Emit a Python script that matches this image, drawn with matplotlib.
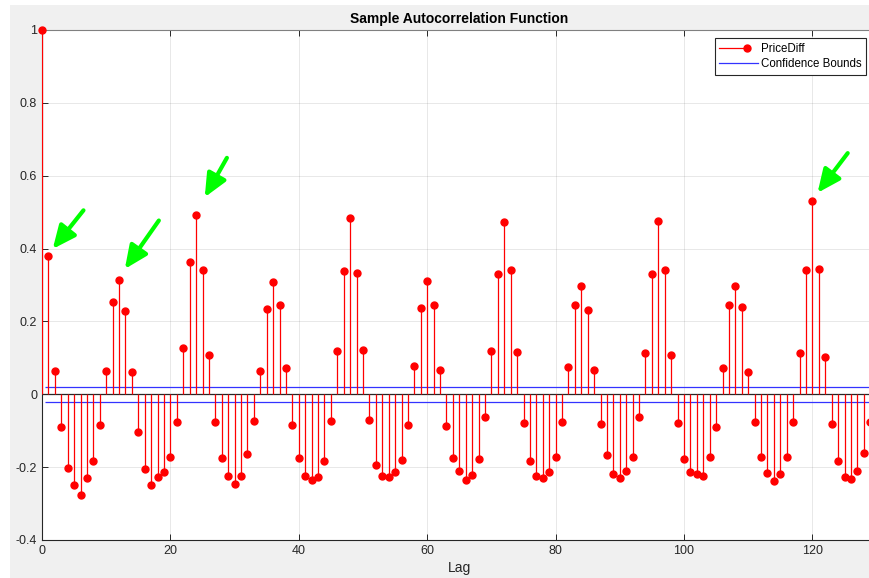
import numpy as np
import matplotlib.pyplot as plt
from matplotlib.legend_handler import HandlerLine2D
from matplotlib.lines import Line2D
from matplotlib.patches import Rectangle

plt.rcParams['font.family'] = ['Liberation Sans', 'DejaVu Sans']

# sample autocorrelation of PriceDiff, lags 0..129
acf = [1.000, 0.379, 0.065, -0.090, -0.203, -0.250, -0.277, -0.230, -0.182, -0.083,
       0.065, 0.254, 0.313, 0.230, 0.061, -0.104, -0.206, -0.250, -0.226, -0.214,
       -0.173, -0.076, 0.127, 0.364, 0.493, 0.340, 0.107, -0.077, -0.176, -0.223,
       -0.245, -0.223, -0.163, -0.074, 0.063, 0.234, 0.309, 0.244, 0.072, -0.084,
       -0.175, -0.224, -0.235, -0.226, -0.183, -0.074, 0.119, 0.339, 0.485, 0.334,
       0.121, -0.070, -0.195, -0.225, -0.228, -0.212, -0.180, -0.083, 0.079, 0.237,
       0.311, 0.246, 0.068, -0.088, -0.175, -0.211, -0.234, -0.221, -0.179, -0.062,
       0.118, 0.331, 0.472, 0.342, 0.116, -0.078, -0.184, -0.225, -0.230, -0.214,
       -0.173, -0.076, 0.074, 0.244, 0.298, 0.232, 0.066, -0.082, -0.166, -0.218,
       -0.231, -0.210, -0.171, -0.062, 0.113, 0.329, 0.476, 0.340, 0.107, -0.080,
       -0.179, -0.213, -0.218, -0.224, -0.172, -0.090, 0.073, 0.246, 0.298, 0.239,
       0.061, -0.075, -0.173, -0.216, -0.237, -0.218, -0.172, -0.077, 0.113, 0.340,
       0.531, 0.344, 0.103, -0.081, -0.182, -0.227, -0.232, -0.211, -0.161, -0.077]
lags = np.arange(len(acf))
bound = 0.021

# green arrows (tail lag, tail value, head lag, head value)
arrow_tails = [(6.46, 0.505), (18.2, 0.477), (28.8, 0.649), (125.5, 0.662)]
arrow_heads = [(1.67, 0.399), (12.9, 0.344), (25.35, 0.541), (120.8, 0.553)]


class StemHandler(HandlerLine2D):
    def create_artists(self, legend, orig_handle, xdescent, ydescent,
                       width, height, fontsize, trans):
        arts = super().create_artists(legend, orig_handle, xdescent, ydescent,
                                      width, height, fontsize, trans)
        ln = arts[0]
        x0 = -xdescent
        ln.set_xdata([x0, x0 + 0.72 * width])
        ln.set_ydata([(height - ydescent) / 2] * 2)
        ln.set_markevery([1])
        return arts


fig = plt.figure(figsize=(8.69, 5.78), dpi=100, facecolor='white')
# grey window background (screenshot has a thin white margin top/left)
fig.patches.append(Rectangle((10 / 869, 0), 1, 1 - 5 / 578, transform=fig.transFigure,
                             facecolor='#f0f0f0', edgecolor='none', zorder=-10))
ax = fig.add_axes([42 / 869, 1 - 540 / 578, 834.6 / 869, 510 / 578])

ax.vlines(lags, 0, acf, color='#ff0000', lw=0.9, zorder=3)
ax.plot(lags, acf, 'o', color='#ff0000', ms=5, zorder=4, clip_on=False)
ax.axhline(0, color='#262626', lw=0.9, zorder=2)
ax.hlines([bound, -bound], 0.5, 131, color='#3333ff', lw=0.9, zorder=2)

for (tx, ty), (hx, hy) in zip(arrow_tails, arrow_heads):
    ax.annotate('', xy=(hx, hy), xytext=(tx, ty),
                arrowprops=dict(arrowstyle='-|>,head_length=1.0,head_width=0.45',
                                color='#00ff00', lw=3, mutation_scale=14,
                                shrinkA=0, shrinkB=0), zorder=5)

ax.set_xlim(0, 130)
ax.set_ylim(-0.4, 1)
ax.set_xticks(range(0, 121, 20))
yt = np.round(np.arange(-0.4, 1.01, 0.2), 1)
ax.set_yticks(yt)
ax.set_yticklabels(['%g' % v for v in yt])
ax.grid(True, color='#262626', alpha=0.12, lw=0.6)
ax.set_axisbelow(True)
ax.tick_params(direction='in', top=True, right=True, length=4, width=0.7,
               labelsize=9, colors='#262626')
for s in ax.spines.values():
    s.set_color('#262626')
    s.set_linewidth(0.8)
ax.spines['top'].set_color('#808080')

ax.set_title('Sample Autocorrelation Function', fontsize=10, fontweight='bold',
             pad=5, color='black')
ax.set_xlabel('Lag', fontsize=10, color='#262626', labelpad=3)

h1 = Line2D([], [], color='#ff0000', lw=0.9, marker='o', ms=5)
h2 = Line2D([], [], color='#3333ff', lw=0.9)
leg = ax.legend([h1, h2], ['PriceDiff', 'Confidence Bounds'],
                handler_map={h1: StemHandler()},
                loc='upper right', bbox_to_anchor=(866 / 869, 1 - 38 / 578),
                bbox_transform=fig.transFigure, fontsize=8.3, fancybox=False,
                framealpha=1, edgecolor='#262626', handlelength=3.4,
                borderaxespad=0, borderpad=0.4, labelspacing=0.3,
                handletextpad=0.2)
leg.get_frame().set_linewidth(0.8)

fig.savefig('out.png', dpi=100, facecolor=fig.get_facecolor())
